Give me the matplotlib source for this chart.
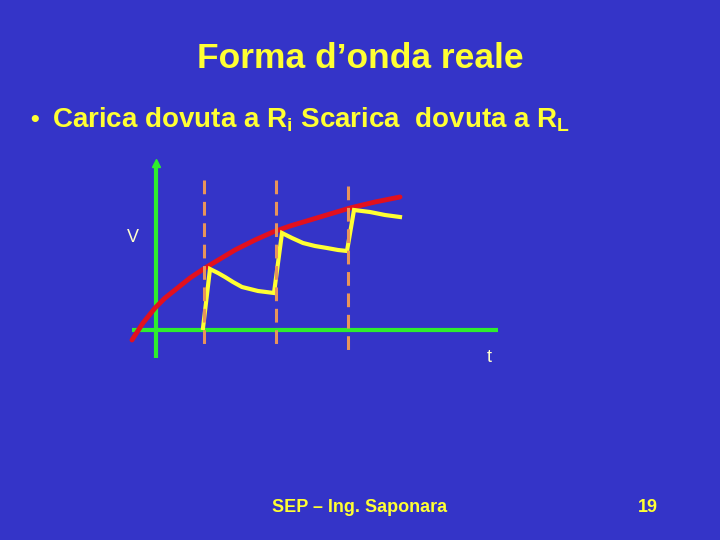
import matplotlib
matplotlib.use("Agg")
import matplotlib.pyplot as plt

# Diagram data (slide pixel coordinates)
red_x = [132, 143, 155, 165, 175, 190, 205, 220, 235, 255, 273, 290, 310, 330, 350, 375, 400]
red_y = [340, 323, 308, 298, 290, 278, 268, 259, 250, 240, 232, 226, 220, 214, 208, 202, 197]
yel_x = [203, 210, 218, 225, 233, 242, 250, 258, 266, 274, 282, 292, 303, 315, 327, 338, 347, 354, 362, 370, 385, 400]
yel_y = [328, 269, 273, 277, 282, 287, 289, 291, 292, 293, 233, 238, 243, 246, 248, 250, 251, 210, 211, 212, 215, 217]
dash_x = [204, 276, 348]
dash_top = [180, 180, 186]
dash_bot = [347, 347, 352]
vaxis_x = [156, 156]
vaxis_y = [358, 163]
haxis_x = [132, 498]
haxis_y = [330, 330]

title = "Forma d\u2019onda reale"
bullet = r"Carica dovuta a R$_\mathregular{i}$ Scarica  dovuta a R$_\mathregular{L}$"
footer = "SEP \u2013 Ing. Saponara"
page = "19"

BG = "#3434C8"
YEL = "#FFFF33"
FAM = ["Liberation Sans", "DejaVu Sans"]

plt.rcParams['font.family'] = FAM
plt.rcParams['mathtext.fontset'] = 'custom'
plt.rcParams['mathtext.rm'] = 'Liberation Sans:bold'
plt.rcParams['mathtext.bf'] = 'Liberation Sans:bold'

fig = plt.figure(figsize=(7.2, 5.4), dpi=100)
fig.patch.set_facecolor(BG)
ax = fig.add_axes([0, 0, 1, 1])
ax.set_facecolor(BG)
ax.set_xlim(0, 720)
ax.set_ylim(540, 0)
ax.axis("off")

ax.plot(vaxis_x, vaxis_y, color="#2EEE2E", lw=3, solid_capstyle="butt")
ax.plot(haxis_x, haxis_y, color="#2EEE2E", lw=3, solid_capstyle="butt")
ax.plot([vaxis_x[1]], [vaxis_y[1]], marker="^", color="#2EEE2E", ms=6)

ax.plot(red_x, red_y, color="#E2101E", lw=3.5, solid_capstyle="round")
ax.plot(yel_x, yel_y, color=YEL, lw=3, solid_joinstyle="miter")

for x, t, b in zip(dash_x, dash_top, dash_bot):
    ax.plot([x, x], [t, b], color="#E8945A", lw=2.2, dashes=(4.5, 2.5))

ax.text(360, 58, title, color=YEL, fontsize=25.5, fontweight="bold",
        ha="center", va="center", family=FAM)
ax.text(30, 120, "\u2022", color=YEL, fontsize=18, fontweight="bold",
        ha="left", va="center", family=FAM)
ax.text(52, 120, bullet, color=YEL, fontsize=20, fontweight="bold",
        ha="left", va="center", family=FAM)
ax.text(133, 238, "V", color="#FFFFCC", fontsize=13, ha="center", va="center", family=FAM)
ax.text(489, 357, "t", color="#FFFFCC", fontsize=13, ha="center", va="center", family=FAM)
ax.text(360, 507, footer, color=YEL, fontsize=13, fontweight="bold",
        ha="center", va="center", family=FAM)
ax.text(648, 507, page, color=YEL, fontsize=13, fontweight="bold",
        ha="center", va="center", family=FAM)

fig.savefig("out.png", dpi=100, facecolor=BG)
